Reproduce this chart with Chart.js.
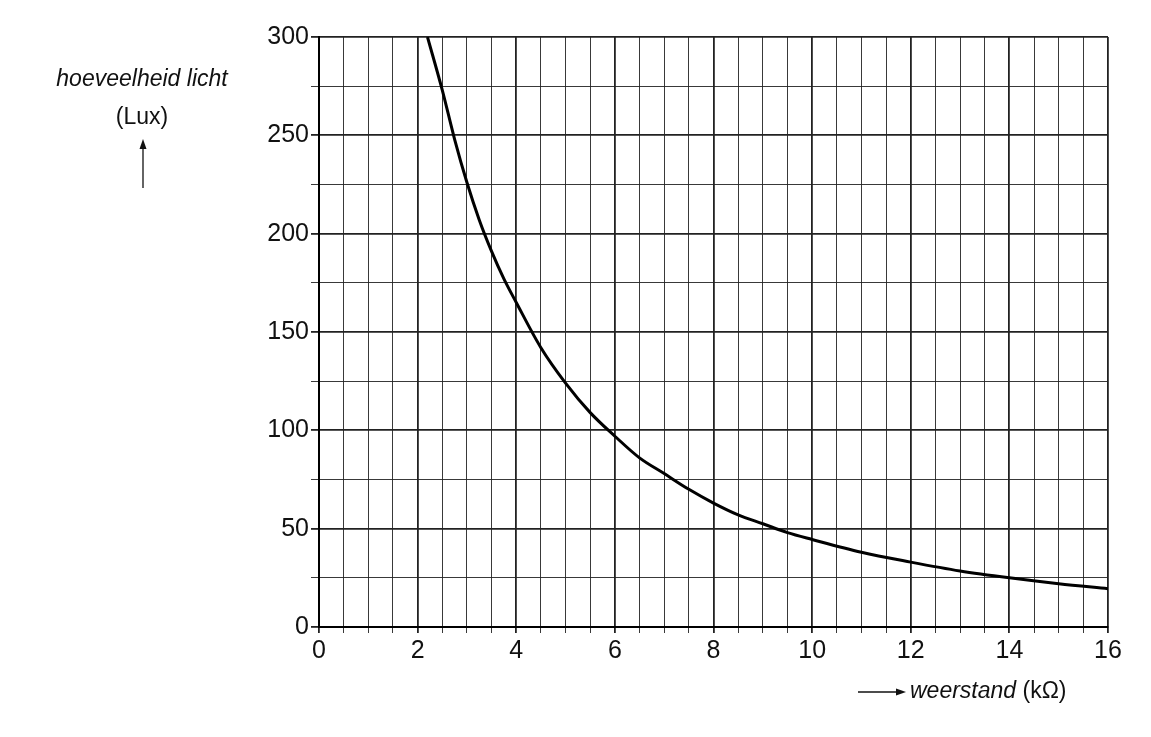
<!DOCTYPE html>
<html>
<head>
<meta charset="utf-8">
<script src="https://cdn.jsdelivr.net/npm/chart.js@4"></script>
<style>
  body { margin: 0; background: #fff; }
  #wrap { width: 1151px; height: 737px; }
</style>
</head>
<body>
<div id="wrap"><canvas id="chart"></canvas></div>
<script>
// weerstand (kOhm) against hoeveelheid licht (Lux)
const weerstand = [2.2, 2.5, 2.75, 3, 3.25, 3.5, 3.75, 4, 4.5, 5, 5.5, 6, 6.5, 7, 7.5, 8, 8.5, 9, 9.5, 10, 11, 12, 13, 14, 15, 16];
const licht = [300, 273, 248, 226, 207, 191, 177, 165, 142, 124, 109, 97, 86, 78, 70, 63, 57, 52.5, 48, 44.5, 38, 33, 28.5, 25, 22, 19.5];
const xTicks = [0, 2, 4, 6, 8, 10, 12, 14, 16];
const yTicks = [0, 50, 100, 150, 200, 250, 300];

const font = { family: 'Liberation Sans, Arial, sans-serif', size: 25 };

const labels = {
  id: 'labels',
  afterDraw(chart) {
    const c = chart.ctx;
    c.save();
    c.fillStyle = '#111';
    c.strokeStyle = '#111';
    c.textBaseline = 'middle';
    c.textAlign = 'center';
    c.font = 'italic 23px Liberation Sans, Arial, sans-serif';
    c.fillText('hoeveelheid licht', 142, 80);
    c.font = '23px Liberation Sans, Arial, sans-serif';
    c.fillText('(Lux)', 142, 118);
    // up arrow
    c.lineWidth = 1.3;
    c.beginPath(); c.moveTo(143, 188); c.lineTo(143, 145); c.stroke();
    c.beginPath(); c.moveTo(143, 139); c.lineTo(139.5, 149); c.lineTo(146.5, 149); c.closePath(); c.fill();
    // right arrow + x title
    c.beginPath(); c.moveTo(858, 692); c.lineTo(900, 692); c.stroke();
    c.beginPath(); c.moveTo(906, 692); c.lineTo(896, 688.5); c.lineTo(896, 695.5); c.closePath(); c.fill();
    c.textAlign = 'left';
    c.font = 'italic 23px Liberation Sans, Arial, sans-serif';
    c.fillText('weerstand', 910, 692);
    const w = c.measureText('weerstand ').width;
    c.font = '23px Liberation Sans, Arial, sans-serif';
    c.fillText('(k\u03A9)', 910 + w, 692);
    c.restore();
  }
};

new Chart(document.getElementById('chart'), {
  type: 'line',
  data: {
    datasets: [{
      data: weerstand.map((x, i) => ({ x: x, y: licht[i] })),
      borderColor: '#000',
      borderWidth: 3,
      pointRadius: 0,
      cubicInterpolationMode: 'monotone',
      fill: false
    }]
  },
  options: {
    responsive: true,
    maintainAspectRatio: false,
    animation: false,
    layout: { padding: { left: 259, top: 37, right: 43, bottom: 68 } },
    plugins: { legend: { display: false }, tooltip: { enabled: false } },
    scales: {
      x: {
        type: 'linear', min: 0, max: 16,
        afterFit: s => { s.height = 42; },
        border: { color: '#000', width: 2 },
        grid: {
          color: '#222',
          lineWidth: ctx => (ctx.tick && xTicks.includes(ctx.tick.value)) ? 1.8 : 0.9,
          tickLength: 6
        },
        ticks: {
          stepSize: 0.5, autoSkip: false, maxRotation: 0, color: '#111', font: font, padding: 3,
          callback: v => xTicks.includes(v) ? String(v) : ''
        }
      },
      y: {
        min: 0, max: 300,
        afterFit: s => { s.width = 60; },
        border: { color: '#000', width: 2 },
        grid: {
          color: '#222',
          lineWidth: ctx => (ctx.tick && yTicks.includes(ctx.tick.value)) ? 1.8 : 0.9,
          tickLength: 8
        },
        ticks: {
          stepSize: 25, autoSkip: false, color: '#111', font: font, padding: 2,
          callback: v => yTicks.includes(v) ? String(v) : ''
        }
      }
    }
  },
  plugins: [labels]
});
</script>
</body>
</html>
